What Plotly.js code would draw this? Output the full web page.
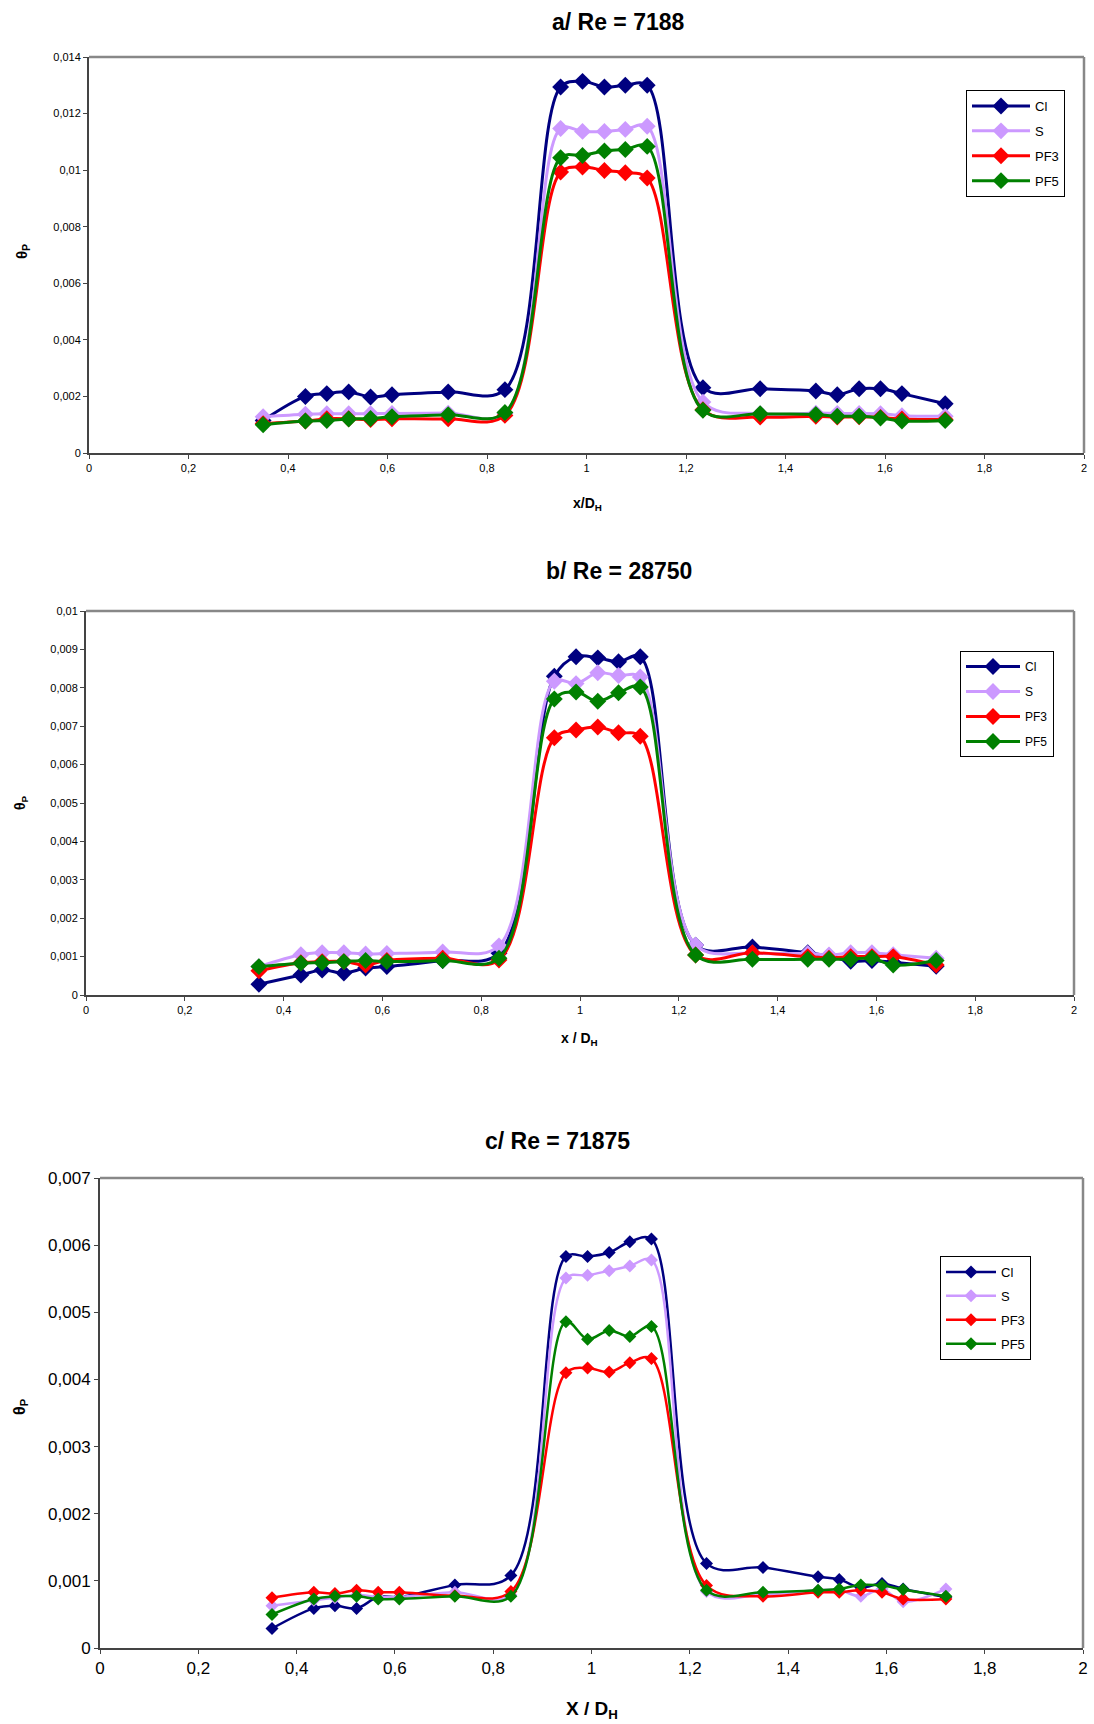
<!DOCTYPE html>
<html>
<head>
<meta charset="utf-8">
<script src="https://cdn.plot.ly/plotly-3.0.1.min.js"></script>
<style>
html,body{margin:0;padding:0;background:#fff;}
#chart{width:1094px;height:1724px;}
</style>
</head>
<body>
<div id="chart"></div>
<script>
// ---- data ----
const xPos = [0.35,0.435,0.478,0.522,0.566,0.609,0.722,0.836,0.948,0.992,1.036,1.078,1.122,1.234,1.349,1.461,1.504,1.548,1.591,1.634,1.721];
const seriesNames = ["Cl","S","PF3","PF5"];
const panelTitles = ["a/ Re = 7188","b/ Re = 28750","c/ Re = 71875"];
const xTitles = ["x/D<sub>H</sub>","x / D<sub>H</sub>","X / D<sub>H</sub>"];

// a/ Re = 7188
const aCl  = [0.00115,0.00200,0.00210,0.00216,0.00198,0.00206,0.00216,0.00224,0.01294,0.01314,0.01294,0.01300,0.01300,0.00231,0.00227,0.00219,0.00206,0.00227,0.00227,0.00210,0.00174];
const aS   = [0.00128,0.00137,0.00139,0.00139,0.00139,0.00140,0.00141,0.00140,0.01147,0.01137,0.01137,0.01144,0.01155,0.00180,0.00139,0.00141,0.00140,0.00140,0.00139,0.00132,0.00130];
const aPF3 = [0.00104,0.00113,0.00121,0.00121,0.00118,0.00121,0.00121,0.00133,0.00993,0.01011,0.00999,0.00991,0.00972,0.00153,0.00127,0.00130,0.00127,0.00128,0.00126,0.00120,0.00118];
const aPF5 = [0.00100,0.00113,0.00115,0.00120,0.00122,0.00128,0.00135,0.00143,0.01044,0.01052,0.01068,0.01073,0.01084,0.00151,0.00139,0.00136,0.00130,0.00130,0.00124,0.00113,0.00115];

// b/ Re = 28750
const bCl  = [0.00028,0.00052,0.00065,0.00057,0.00070,0.00074,0.00090,0.00109,0.00830,0.00881,0.00878,0.00868,0.00881,0.00130,0.00125,0.00110,0.00102,0.00088,0.00090,0.00085,0.00075];
const bS   = [0.00074,0.00105,0.00110,0.00110,0.00107,0.00108,0.00112,0.00128,0.00817,0.00811,0.00839,0.00832,0.00828,0.00130,0.00109,0.00108,0.00104,0.00110,0.00110,0.00105,0.00096];
const bPF3 = [0.00063,0.00084,0.00087,0.00087,0.00078,0.00090,0.00096,0.00091,0.00670,0.00690,0.00698,0.00683,0.00674,0.00104,0.00110,0.00100,0.00096,0.00100,0.00100,0.00100,0.00078];
const bPF5 = [0.00074,0.00083,0.00084,0.00087,0.00090,0.00087,0.00090,0.00096,0.00771,0.00789,0.00765,0.00787,0.00802,0.00104,0.00093,0.00093,0.00093,0.00093,0.00096,0.00078,0.00090];

// c/ Re = 71875
const cCl  = [0.00029,0.00059,0.00063,0.00059,0.00076,0.00076,0.00094,0.00108,0.00583,0.00583,0.00589,0.00605,0.00609,0.00126,0.00120,0.00106,0.00102,0.00090,0.00096,0.00088,0.00076];
const cS   = [0.00063,0.00071,0.00075,0.00079,0.00076,0.00076,0.00083,0.00079,0.00551,0.00555,0.00562,0.00569,0.00578,0.00084,0.00080,0.00086,0.00086,0.00077,0.00088,0.00069,0.00088];
const cPF3 = [0.00075,0.00083,0.00081,0.00086,0.00083,0.00083,0.00078,0.00084,0.00410,0.00417,0.00411,0.00425,0.00431,0.00093,0.00077,0.00083,0.00083,0.00086,0.00083,0.00073,0.00073];
const cPF5 = [0.00050,0.00073,0.00077,0.00077,0.00073,0.00073,0.00077,0.00077,0.00486,0.00460,0.00473,0.00464,0.00479,0.00086,0.00083,0.00086,0.00088,0.00094,0.00093,0.00087,0.00077];

const colors = ["#000080","#CC99FF","#FF0000","#008000"];

// ---- layout helpers (pixel boxes -> paper fractions) ----
const W = 1094, H = 1724;
const boxes = [
  {l:89, r:1084, t:57,   b:453,  yMax:0.014, dy:0.002, tick:11, ms:13, lw:3,   leg:{x:966,y:90},  legFont:13, iw:58, gap:5},
  {l:86, r:1074, t:611,  b:995,  yMax:0.010, dy:0.001, tick:11, ms:13, lw:3,   leg:{x:960,y:651}, legFont:12, iw:54, gap:6},
  {l:100,r:1083, t:1178, b:1648, yMax:0.007, dy:0.001, tick:17, ms:10, lw:2.5, leg:{x:940,y:1256}, legFont:13, iw:50, gap:4}
];
const titlePos = [{x:618,y:22},{x:619,y:571},{x:557,y:1141}];
const xTitlePos = [{x:587,y:504,s:14},{x:579,y:1039,s:14},{x:592,y:1710,s:19}];
const yTitlePos = [{x:22,y:252,s:15},{x:21,y:803,s:14},{x:20,y:1407,s:16}];

const panelData = [[aCl,aS,aPF3,aPF5],[bCl,bS,bPF3,bPF5],[cCl,cS,cPF3,cPF5]];

const traces = [];
const layout = {
  width: W, height: H,
  margin: {l:0,r:0,t:0,b:0},
  paper_bgcolor: "#fff", plot_bgcolor: "#fff",
  separators: ", ",
  font: {family: "Liberation Sans, Arial, sans-serif", color: "#000"},
  showlegend: true,
  annotations: [], shapes: []
};

boxes.forEach((bx, p) => {
  const suf = p === 0 ? "" : String(p+1);
  const xa = "x" + suf, ya = "y" + suf;
  const legName = "legend" + suf;
  panelData[p].forEach((ys, i) => {
    traces.push({
      type: "scatter", mode: "lines+markers",
      x: xPos, y: ys, name: seriesNames[i],
      xaxis: xa, yaxis: ya, legend: legName, legendgroup: "g"+p+"_"+i,
      line: {color: colors[i], width: bx.lw, shape: "spline", smoothing: 1},
      marker: {symbol: "diamond", size: bx.ms, color: colors[i]},
      cliponaxis: false
    });
  });
  layout["xaxis" + suf] = {
    domain: [bx.l/W, bx.r/W], anchor: ya,
    range: [0, 2], dtick: 0.2, tick0: 0,
    showgrid: false, zeroline: false,
    showline: true, linecolor: "#444", linewidth: 2,
    ticks: "outside", ticklen: 4, tickcolor: "#444",
    tickfont: {size: bx.tick, family: "Liberation Sans, Arial, sans-serif"}
  };
  layout["yaxis" + suf] = {
    domain: [1 - bx.b/H, 1 - bx.t/H], anchor: xa,
    range: [0, bx.yMax], dtick: bx.dy, tick0: 0,
    showgrid: false, zeroline: false,
    showline: true, linecolor: "#444", linewidth: 2,
    ticks: "outside", ticklen: 4, tickcolor: "#444",
    tickfont: {size: bx.tick, family: "Liberation Sans, Arial, sans-serif"}
  };
  layout[legName] = {
    x: bx.leg.x/W, y: 1 - bx.leg.y/H, xanchor: "left", yanchor: "top",
    bgcolor: "#fff", bordercolor: "#000", borderwidth: 1,
    font: {size: bx.legFont, family: "Liberation Sans, Arial, sans-serif"},
    traceorder: "grouped", tracegroupgap: bx.gap, itemwidth: bx.iw
  };
  // gray plot-area frame (top/right)
  layout.shapes.push({type:"line", xref: xa+" domain", yref: ya+" domain", x0:0, x1:1, y0:1, y1:1, line:{color:"#888", width:2.5}});
  layout.shapes.push({type:"line", xref: xa+" domain", yref: ya+" domain", x0:1, x1:1, y0:0, y1:1, line:{color:"#888", width:2.5}});
  // titles
  layout.annotations.push({xref:"paper", yref:"paper", x: titlePos[p].x/W, y: 1 - titlePos[p].y/H,
    text: "<b>"+panelTitles[p]+"</b>", showarrow:false, xanchor:"center", yanchor:"middle",
    font:{size:23, family:"Liberation Sans, Arial, sans-serif"}});
  layout.annotations.push({xref:"paper", yref:"paper", x: xTitlePos[p].x/W, y: 1 - xTitlePos[p].y/H,
    text: "<b>"+xTitles[p]+"</b>", showarrow:false, xanchor:"center", yanchor:"middle",
    font:{size:xTitlePos[p].s, family:"Liberation Sans, Arial, sans-serif"}});
  layout.annotations.push({xref:"paper", yref:"paper", x: yTitlePos[p].x/W, y: 1 - yTitlePos[p].y/H,
    text: "<b>θ<sub>P</sub></b>", showarrow:false, xanchor:"center", yanchor:"middle", textangle:-90,
    font:{size:yTitlePos[p].s, family:"Liberation Sans, Arial, sans-serif"}});
});

Plotly.newPlot("chart", traces, layout, {staticPlot: true, displayModeBar: false});
</script>
</body>
</html>
